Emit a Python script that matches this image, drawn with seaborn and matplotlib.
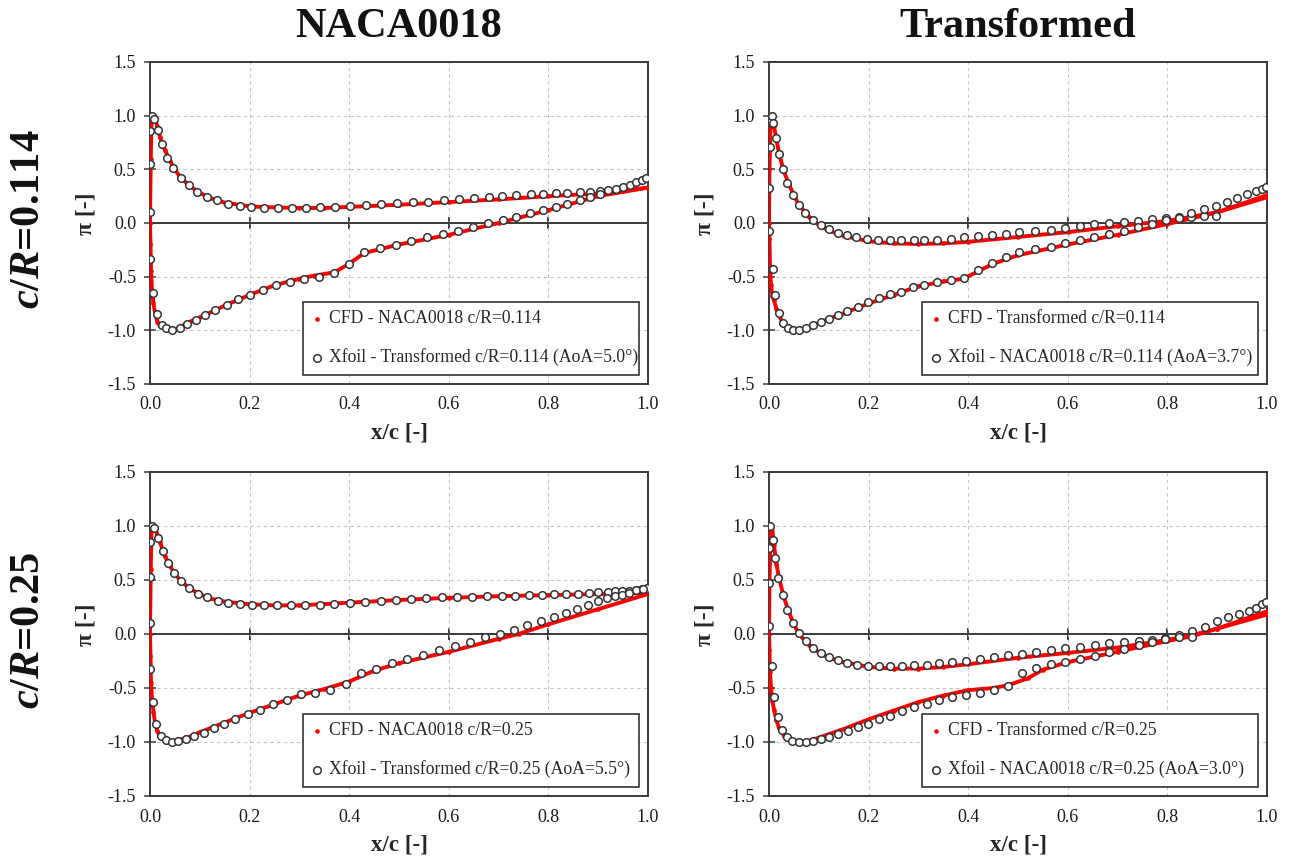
import numpy as np
import pandas as pd
import matplotlib
matplotlib.use("Agg")
import matplotlib.pyplot as plt
import seaborn as sns

# ---------------- data ----------------
# Panel A: NACA0018, c/R=0.114
a_cfd_up_x = [0.0, 0.0015, 0.003, 0.006, 0.01, 0.015, 0.02, 0.03, 0.04, 0.05, 0.06, 0.08, 0.1, 0.12, 0.15, 0.2, 0.25, 0.3, 0.35, 0.4, 0.5, 0.6, 0.7, 0.8, 0.9, 0.95, 1.0]
a_cfd_up_y = [0.0, 0.6, 0.95, 1.0, 0.97, 0.9, 0.8, 0.68, 0.58, 0.5, 0.43, 0.345, 0.28, 0.235, 0.19, 0.155, 0.145, 0.14, 0.14, 0.15, 0.17, 0.195, 0.22, 0.25, 0.275, 0.3, 0.33]
a_cfd_lo_x = [0.0, 0.001, 0.002, 0.004, 0.007, 0.01, 0.015, 0.02, 0.03, 0.04, 0.05, 0.06, 0.08, 0.1, 0.15, 0.2, 0.25, 0.3, 0.33, 0.37, 0.4, 0.43, 0.5, 0.6, 0.7, 0.8, 0.9, 1.0]
a_cfd_lo_y = [0.0, -0.2, -0.45, -0.62, -0.75, -0.84, -0.92, -0.96, -0.99, -1.0, -0.99, -0.97, -0.92, -0.88, -0.77, -0.67, -0.58, -0.52, -0.49, -0.46, -0.38, -0.28, -0.2, -0.11, 0.0, 0.12, 0.25, 0.33]
a_xf_up_x = [0.0, 0.0, 0.0, 0.004, 0.009, 0.017, 0.025, 0.035, 0.047, 0.062, 0.078, 0.095, 0.114, 0.135, 0.157, 0.18, 0.203, 0.229, 0.257, 0.285, 0.313, 0.342, 0.371, 0.401, 0.433, 0.464, 0.496, 0.528, 0.559, 0.59, 0.621, 0.65, 0.68, 0.707, 0.734, 0.765, 0.79, 0.815, 0.838, 0.863, 0.883, 0.903, 0.919, 0.935, 0.949, 0.963, 0.976, 0.987, 0.996]
a_xf_up_y = [0.1, 0.55, 0.86, 1.0, 0.97, 0.87, 0.74, 0.61, 0.51, 0.42, 0.35, 0.29, 0.24, 0.21, 0.18, 0.16, 0.15, 0.14, 0.14, 0.14, 0.14, 0.145, 0.15, 0.16, 0.166, 0.175, 0.185, 0.194, 0.2, 0.21, 0.22, 0.234, 0.243, 0.25, 0.26, 0.27, 0.274, 0.28, 0.283, 0.286, 0.29, 0.296, 0.305, 0.317, 0.335, 0.357, 0.38, 0.4, 0.415]
a_xf_lo_x = [0.0, 0.007, 0.014, 0.024, 0.033, 0.045, 0.06, 0.075, 0.092, 0.11, 0.131, 0.154, 0.177, 0.2, 0.226, 0.253, 0.281, 0.31, 0.339, 0.369, 0.399, 0.43, 0.461, 0.493, 0.525, 0.556, 0.588, 0.619, 0.649, 0.679, 0.708, 0.735, 0.764, 0.789, 0.815, 0.838, 0.863, 0.883, 0.903]
a_xf_lo_y = [-0.34, -0.65, -0.85, -0.95, -0.98, -0.995, -0.98, -0.94, -0.9, -0.86, -0.81, -0.76, -0.71, -0.67, -0.62, -0.58, -0.55, -0.52, -0.5, -0.47, -0.38, -0.27, -0.235, -0.205, -0.17, -0.135, -0.1, -0.07, -0.04, 0.0, 0.03, 0.06, 0.09, 0.12, 0.15, 0.18, 0.21, 0.24, 0.27]

# Panel B: Transformed, c/R=0.114
b_cfd_up_x = [0.0, 0.001, 0.003, 0.006, 0.01, 0.015, 0.02, 0.03, 0.04, 0.05, 0.06, 0.08, 0.1, 0.12, 0.15, 0.2, 0.25, 0.3, 0.35, 0.4, 0.5, 0.6, 0.7, 0.8, 0.9, 1.0]
b_cfd_up_y = [0.0, 0.5, 0.9, 1.0, 0.9, 0.78, 0.65, 0.48, 0.36, 0.26, 0.17, 0.06, -0.02, -0.07, -0.12, -0.17, -0.19, -0.195, -0.19, -0.175, -0.13, -0.085, -0.03, 0.02, 0.1, 0.24]
b_cfd_lo_x = [0.0, 0.001, 0.002, 0.004, 0.007, 0.01, 0.015, 0.02, 0.03, 0.04, 0.05, 0.06, 0.08, 0.1, 0.15, 0.2, 0.25, 0.3, 0.35, 0.39, 0.42, 0.45, 0.5, 0.6, 0.7, 0.8, 0.9, 1.0]
b_cfd_lo_y = [0.0, -0.15, -0.4, -0.58, -0.68, -0.72, -0.8, -0.86, -0.95, -0.99, -1.0, -0.995, -0.97, -0.93, -0.84, -0.75, -0.67, -0.59, -0.545, -0.52, -0.45, -0.38, -0.3, -0.2, -0.11, -0.01, 0.1, 0.26]
b_xf_up_x = [0.0, 0.002, 0.003, 0.006, 0.009, 0.014, 0.02, 0.028, 0.037, 0.048, 0.06, 0.073, 0.088, 0.104, 0.121, 0.138, 0.156, 0.175, 0.197, 0.218, 0.242, 0.265, 0.291, 0.312, 0.338, 0.365, 0.392, 0.419, 0.447, 0.475, 0.503, 0.535, 0.566, 0.594, 0.624, 0.653, 0.683, 0.713, 0.741, 0.769, 0.797, 0.823, 0.848, 0.874, 0.898]
b_xf_up_y = [0.33, 0.71, 0.94, 1.0, 0.93, 0.79, 0.64, 0.5, 0.37, 0.26, 0.17, 0.09, 0.03, -0.015, -0.055, -0.09, -0.115, -0.135, -0.15, -0.157, -0.163, -0.163, -0.163, -0.16, -0.155, -0.145, -0.135, -0.123, -0.111, -0.099, -0.083, -0.074, -0.062, -0.046, -0.028, -0.012, 0.0, 0.01, 0.02, 0.034, 0.043, 0.052, 0.058, 0.068, 0.068]
b_xf_lo_x = [0.0, 0.008, 0.013, 0.02, 0.028, 0.038, 0.049, 0.061, 0.074, 0.088, 0.104, 0.121, 0.139, 0.156, 0.178, 0.198, 0.221, 0.242, 0.266, 0.29, 0.312, 0.338, 0.365, 0.392, 0.419, 0.447, 0.475, 0.503, 0.535, 0.566, 0.594, 0.624, 0.653, 0.683, 0.713, 0.741, 0.769, 0.797, 0.823, 0.848, 0.874, 0.898, 0.92, 0.94, 0.96, 0.978, 0.99, 0.998]
b_xf_lo_y = [-0.07, -0.43, -0.67, -0.84, -0.93, -0.975, -1.0, -1.0, -0.975, -0.95, -0.92, -0.89, -0.86, -0.82, -0.78, -0.74, -0.7, -0.665, -0.64, -0.6, -0.575, -0.55, -0.53, -0.515, -0.44, -0.37, -0.32, -0.27, -0.24, -0.22, -0.19, -0.16, -0.13, -0.1, -0.07, -0.04, -0.012, 0.025, 0.05, 0.09, 0.126, 0.163, 0.2, 0.23, 0.27, 0.3, 0.32, 0.335]

# Panel C: NACA0018, c/R=0.25
c_cfd_up_x = [0.0, 0.0015, 0.003, 0.006, 0.01, 0.015, 0.02, 0.03, 0.04, 0.05, 0.06, 0.08, 0.1, 0.12, 0.15, 0.2, 0.25, 0.3, 0.4, 0.5, 0.6, 0.7, 0.8, 0.9, 1.0]
c_cfd_up_y = [0.0, 0.6, 0.95, 1.0, 0.98, 0.92, 0.85, 0.72, 0.63, 0.56, 0.5, 0.42, 0.37, 0.33, 0.3, 0.275, 0.265, 0.265, 0.29, 0.315, 0.335, 0.35, 0.36, 0.37, 0.38]
c_cfd_lo_x = [0.0, 0.001, 0.002, 0.004, 0.007, 0.01, 0.015, 0.02, 0.03, 0.04, 0.05, 0.06, 0.08, 0.1, 0.15, 0.2, 0.25, 0.3, 0.35, 0.4, 0.45, 0.5, 0.6, 0.7, 0.74, 0.8, 0.9, 1.0]
c_cfd_lo_y = [0.0, -0.2, -0.45, -0.6, -0.72, -0.82, -0.9, -0.95, -0.985, -1.0, -0.995, -0.98, -0.95, -0.91, -0.82, -0.73, -0.65, -0.57, -0.51, -0.44, -0.34, -0.27, -0.165, -0.045, 0.0, 0.09, 0.23, 0.37]
c_xf_up_x = [0.0, 0.0, 0.0, 0.004, 0.009, 0.017, 0.026, 0.036, 0.049, 0.063, 0.078, 0.096, 0.115, 0.136, 0.157, 0.18, 0.204, 0.229, 0.256, 0.283, 0.312, 0.341, 0.37, 0.401, 0.432, 0.463, 0.494, 0.525, 0.555, 0.587, 0.617, 0.646, 0.677, 0.706, 0.733, 0.761, 0.788, 0.812, 0.836, 0.86, 0.881, 0.9, 0.919, 0.933, 0.948, 0.962, 0.976, 0.987, 0.998]
c_xf_up_y = [0.1, 0.53, 0.85, 1.0, 0.985, 0.89, 0.77, 0.66, 0.565, 0.49, 0.425, 0.375, 0.34, 0.31, 0.29, 0.28, 0.27, 0.267, 0.264, 0.264, 0.267, 0.273, 0.28, 0.29, 0.298, 0.305, 0.314, 0.323, 0.332, 0.338, 0.342, 0.345, 0.35, 0.354, 0.354, 0.36, 0.36, 0.366, 0.37, 0.375, 0.38, 0.388, 0.39, 0.394, 0.397, 0.4, 0.41, 0.42, 0.43]
c_xf_lo_x = [0.0, 0.006, 0.013, 0.022, 0.032, 0.044, 0.057, 0.072, 0.089, 0.108, 0.128, 0.149, 0.171, 0.196, 0.22, 0.247, 0.275, 0.303, 0.331, 0.362, 0.393, 0.423, 0.454, 0.485, 0.516, 0.549, 0.581, 0.612, 0.642, 0.673, 0.702, 0.73, 0.758, 0.786, 0.811, 0.835, 0.858, 0.88, 0.9, 0.917, 0.933, 0.948, 0.962, 0.976, 0.99]
c_xf_lo_y = [-0.32, -0.63, -0.83, -0.94, -0.985, -1.0, -0.99, -0.97, -0.945, -0.92, -0.87, -0.83, -0.79, -0.74, -0.7, -0.65, -0.61, -0.56, -0.55, -0.52, -0.46, -0.365, -0.32, -0.27, -0.23, -0.19, -0.15, -0.11, -0.07, -0.03, 0.0, 0.04, 0.08, 0.12, 0.16, 0.19, 0.23, 0.265, 0.305, 0.335, 0.35, 0.365, 0.38, 0.405, 0.42]

# Panel D: Transformed, c/R=0.25
d_cfd_up_x = [0.0, 0.001, 0.003, 0.006, 0.01, 0.015, 0.02, 0.03, 0.04, 0.05, 0.06, 0.08, 0.1, 0.12, 0.15, 0.2, 0.25, 0.3, 0.35, 0.4, 0.5, 0.6, 0.7, 0.8, 0.85, 0.9, 1.0]
d_cfd_up_y = [0.0, 0.5, 0.9, 1.0, 0.82, 0.65, 0.52, 0.34, 0.2, 0.09, 0.0, -0.1, -0.17, -0.22, -0.26, -0.305, -0.32, -0.32, -0.305, -0.28, -0.22, -0.175, -0.125, -0.055, -0.01, 0.05, 0.18]
d_cfd_lo_x = [0.0, 0.001, 0.002, 0.004, 0.007, 0.01, 0.015, 0.02, 0.03, 0.04, 0.05, 0.06, 0.08, 0.1, 0.15, 0.2, 0.25, 0.3, 0.35, 0.4, 0.45, 0.48, 0.52, 0.55, 0.6, 0.7, 0.8, 0.85, 0.9, 1.0]
d_cfd_lo_y = [0.0, -0.15, -0.35, -0.5, -0.62, -0.7, -0.8, -0.87, -0.94, -0.975, -0.99, -1.0, -0.99, -0.96, -0.88, -0.79, -0.71, -0.63, -0.57, -0.52, -0.5, -0.475, -0.41, -0.33, -0.26, -0.165, -0.065, -0.02, 0.05, 0.21]
d_xf_up_x = [0.0, 0.0, 0.003, 0.008, 0.013, 0.019, 0.028, 0.037, 0.048, 0.06, 0.074, 0.088, 0.105, 0.121, 0.139, 0.157, 0.177, 0.198, 0.22, 0.243, 0.267, 0.291, 0.317, 0.342, 0.368, 0.396, 0.423, 0.451, 0.479, 0.508, 0.537, 0.566, 0.595, 0.625, 0.654, 0.683, 0.713, 0.742, 0.769, 0.796, 0.823, 0.849, 0.875, 0.9, 0.921, 0.943, 0.963, 0.977, 0.99, 0.998]
d_xf_up_y = [0.47, 0.8, 1.0, 0.87, 0.7, 0.52, 0.36, 0.22, 0.105, 0.01, -0.065, -0.127, -0.177, -0.214, -0.245, -0.267, -0.283, -0.292, -0.298, -0.3, -0.298, -0.289, -0.283, -0.27, -0.26, -0.248, -0.233, -0.217, -0.199, -0.183, -0.168, -0.152, -0.134, -0.118, -0.1, -0.087, -0.075, -0.065, -0.056, -0.037, -0.006, 0.025, 0.068, 0.118, 0.155, 0.183, 0.214, 0.245, 0.276, 0.3]
d_xf_lo_x = [0.0, 0.006, 0.011, 0.018, 0.027, 0.037, 0.047, 0.06, 0.074, 0.088, 0.105, 0.121, 0.139, 0.158, 0.178, 0.199, 0.221, 0.243, 0.267, 0.291, 0.317, 0.342, 0.368, 0.396, 0.423, 0.451, 0.479, 0.508, 0.537, 0.566, 0.595, 0.625, 0.654, 0.683, 0.713, 0.742, 0.769, 0.796, 0.823, 0.849]
d_xf_lo_y = [0.07, -0.3, -0.58, -0.77, -0.89, -0.955, -0.99, -1.0, -1.0, -0.99, -0.975, -0.953, -0.93, -0.9, -0.863, -0.832, -0.79, -0.755, -0.717, -0.68, -0.65, -0.615, -0.587, -0.562, -0.543, -0.522, -0.48, -0.36, -0.314, -0.28, -0.26, -0.23, -0.2, -0.17, -0.143, -0.106, -0.078, -0.05, -0.031, -0.031]

cfd_labels = ["CFD - NACA0018 c/R=0.114", "CFD - Transformed c/R=0.114",
              "CFD - NACA0018 c/R=0.25", "CFD - Transformed c/R=0.25"]
xfoil_labels = ["Xfoil - Transformed c/R=0.114 (AoA=5.0°)", "Xfoil - NACA0018 c/R=0.114 (AoA=3.7°)",
                "Xfoil - Transformed c/R=0.25 (AoA=5.5°)", "Xfoil - NACA0018 c/R=0.25 (AoA=3.0°)"]
col_titles = ["NACA0018", "Transformed"]
row_labels = [r"$\mathbfit{c}$/$\mathbfit{R}$=0.114",
              r"$\mathbfit{c}$/$\mathbfit{R}$=0.25"]
x_ticks = [0.0, 0.2, 0.4, 0.6, 0.8, 1.0]
y_ticks = [-1.5, -1.0, -0.5, 0.0, 0.5, 1.0, 1.5]

# ---------------- style ----------------
sns.set_theme(style="white")
plt.rcParams["font.family"] = ["Liberation Serif", "DejaVu Serif"]
plt.rcParams["axes.unicode_minus"] = False
plt.rcParams["mathtext.fontset"] = "custom"
plt.rcParams["mathtext.rm"] = "Liberation Serif:bold"
plt.rcParams["mathtext.bf"] = "Liberation Serif:bold"
plt.rcParams["mathtext.it"] = "Liberation Serif:italic:bold"
plt.rcParams["mathtext.bfit"] = "Liberation Serif:italic:bold"

SPINE = "#3a3a3a"
fig = plt.figure(figsize=(12.9, 8.59), dpi=100)

W, H = 1290.0, 859.0
lefts = [150 / W, 769 / W]
width = 498 / W
rows = [(1 - 384 / H, 322 / H), (1 - 796 / H, 324 / H)]

panels = [
    (a_cfd_up_x, a_cfd_up_y, a_cfd_lo_x, a_cfd_lo_y, a_xf_up_x, a_xf_up_y, a_xf_lo_x, a_xf_lo_y),
    (b_cfd_up_x, b_cfd_up_y, b_cfd_lo_x, b_cfd_lo_y, b_xf_up_x, b_xf_up_y, b_xf_lo_x, b_xf_lo_y),
    (c_cfd_up_x, c_cfd_up_y, c_cfd_lo_x, c_cfd_lo_y, c_xf_up_x, c_xf_up_y, c_xf_lo_x, c_xf_lo_y),
    (d_cfd_up_x, d_cfd_up_y, d_cfd_lo_x, d_cfd_lo_y, d_xf_up_x, d_xf_up_y, d_xf_lo_x, d_xf_lo_y),
]

for i, p in enumerate(panels):
    r, c = divmod(i, 2)
    bottom, height = rows[r]
    ax = fig.add_axes([lefts[c], bottom, width, height])
    cux, cuy, clx, cly, xux, xuy, xlx, xly = p

    # CFD lines (upper & lower surface)
    for sx, sy in ((cux, cuy), (clx, cly)):
        sns.lineplot(x=sx, y=sy, ax=ax, color="#ff0000", lw=2.8, sort=False,
                     estimator=None, legend=False, zorder=3)
    cfd_df = pd.DataFrame({"x": cux + clx, "y": cuy + cly})
    sns.scatterplot(data=cfd_df, x="x", y="y", ax=ax, color="#ff0000", s=11,
                    linewidth=0, label=cfd_labels[i], zorder=3)
    xf_df = pd.DataFrame({"x": xux + xlx, "y": xuy + xly})
    sns.scatterplot(data=xf_df, x="x", y="y", ax=ax, marker="o", s=30,
                    color="white", edgecolor="#333333", linewidth=1.1,
                    label=xfoil_labels[i], zorder=4)

    ax.set_xlim(0, 1.0)
    ax.set_ylim(-1.5, 1.5)
    ax.set_xticks(x_ticks)
    ax.set_yticks(y_ticks)
    ax.set_xticklabels([f"{v:.1f}" for v in x_ticks])
    ax.set_yticklabels([f"{v:.1f}" for v in y_ticks])
    ax.tick_params(axis="x", length=0, pad=9, labelsize=13, labelcolor="#1a1a1a")
    ax.tick_params(axis="y", direction="inout", length=8, width=1.1, color=SPINE,
                   pad=6, labelsize=13, labelcolor="#1a1a1a", left=True)
    ax.grid(True, ls=(0, (3, 3)), color="#c4c4c4", lw=0.8)
    for s in ax.spines.values():
        s.set_color(SPINE)
        s.set_linewidth(1.4)

    # zero line with crossing tick marks
    ax.axhline(0, color=SPINE, lw=1.4, zorder=2)
    sec = ax.secondary_xaxis(0.5)
    sec.set_xticks(x_ticks[1:-1])
    sec.tick_params(axis="x", which="both", direction="inout", length=9, width=1.1,
                    color=SPINE, top=True, bottom=True, labeltop=False, labelbottom=False)
    for s in sec.spines.values():
        s.set_visible(False)

    ax.set_xlabel("x/c [-]", fontsize=16.5, fontweight="bold", va="center")
    ax.xaxis.set_label_coords(0.5, -0.152)
    ax.set_ylabel("π [-]", fontsize=17, fontweight="bold", va="center")
    ax.yaxis.set_label_coords(-0.128, 0.53)

    ax.legend(loc="lower left", bbox_to_anchor=(0.308, 0.027, 0.674, 0.23),
              mode="expand", fontsize=12.7, frameon=True, fancybox=False,
              edgecolor="#222222", framealpha=1, handlelength=0.5,
              handletextpad=0.45, labelspacing=1.2, borderpad=0.5,
              borderaxespad=0, markerscale=1.0)
    ax.get_legend().get_frame().set_linewidth(1.1)

# column titles
for c, t in enumerate(col_titles):
    fig.text(lefts[c] + width / 2, 1 - 27 / H, t, ha="center", va="center",
             fontsize=30.5, fontweight="bold", color="#111111")
# row labels
for r, t in enumerate(row_labels):
    bottom, height = rows[r]
    fig.text(29 / W, bottom + height / 2 + 4 / H, t, ha="center", va="center",
             rotation=90, fontsize=30.5, fontweight="bold", color="#111111")

fig.savefig("out.png", dpi=100)
